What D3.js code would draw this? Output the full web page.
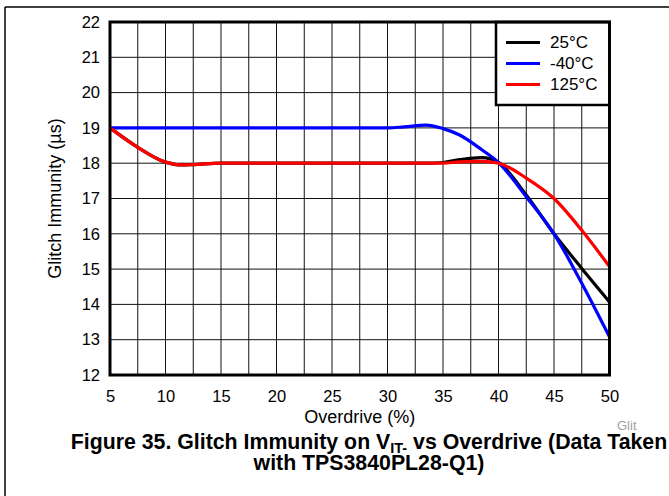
<!DOCTYPE html>
<meta charset="utf-8">
<style>
  body { margin: 0; background: #fff; }
  text { font-family: "Liberation Sans", Arial, sans-serif; }
</style>
<body>
<script src="https://cdnjs.cloudflare.com/ajax/libs/d3/7.8.5/d3.min.js"></script>
<script>
// overdrive (%) sample points, shared by all three curves
var overdrive = [5, 7.5, 10, 11.5, 12.5, 15, 20, 25, 30, 31.5, 33.5, 35, 36.5, 38.5, 40, 42.5, 45, 47.5, 50];
var temp25   = [19, 18.45, 18.03, 17.95, 17.96, 18, 18, 18, 18, 18, 18, 18.02, 18.1, 18.16, 18.02, 17.1, 16.0, 15.02, 14.07];
var tempM40  = [19, 19, 19, 19, 19, 19, 19, 19, 19, 19.03, 19.08, 18.98, 18.8, 18.38, 18.02, 17.05, 16.0, 14.6, 13.08];
var temp125  = [19, 18.45, 18.03, 17.95, 17.96, 18, 18, 18, 18, 18, 18, 18, 18.04, 18.05, 18.0, 17.58, 17.0, 16.1, 15.07];
var seriesNames = ["25°C", "-40°C", "125°C"];
var seriesColors = ["#000000", "#0000ff", "#ff0000"];
var xTicks = [5, 10, 15, 20, 25, 30, 35, 40, 45, 50];
var yTicks = [12, 13, 14, 15, 16, 17, 18, 19, 20, 21, 22];

var W = 669, H = 496;
var pL = 110, pR = 609.5, pT = 22, pB = 375;

var svg = d3.select("body").append("svg")
  .attr("width", W)
  .attr("height", H);

var x = d3.scaleLinear().domain([5, 50]).range([pL, pR]);
var y = d3.scaleLinear().domain([12, 22]).range([pB, pT]);

// outer page frame (top + left edge only)
svg.append("line").attr("x1", 5).attr("x2", W).attr("y1", 7).attr("y2", 7)
  .attr("stroke", "#000").attr("stroke-width", 1.5);
svg.append("line").attr("x1", 5).attr("x2", 5).attr("y1", 7).attr("y2", H)
  .attr("stroke", "#000").attr("stroke-width", 1.5);

// grid: every 2.5 % and every 1 µs
var xGrid = d3.range(5, 50.01, 2.5);
svg.append("g").selectAll("line").data(xGrid).enter().append("line")
  .attr("x1", d => x(d)).attr("x2", d => x(d))
  .attr("y1", pT).attr("y2", pB)
  .attr("stroke", "#111").attr("stroke-width", 1);
svg.append("g").selectAll("line").data(yTicks).enter().append("line")
  .attr("x1", pL).attr("x2", pR)
  .attr("y1", d => y(d)).attr("y2", d => y(d))
  .attr("stroke", "#111").attr("stroke-width", 1);

// axes (labels only, the frame is drawn separately)
var xAxis = svg.append("g").attr("transform", "translate(0," + pB + ")")
  .call(d3.axisBottom(x).tickValues(xTicks).tickSize(0).tickPadding(15));
var yAxis = svg.append("g").attr("transform", "translate(" + pL + ",0)")
  .call(d3.axisLeft(y).tickValues(yTicks).tickSize(0).tickPadding(10));
[xAxis, yAxis].forEach(function(a) {
  a.select(".domain").remove();
  a.selectAll("text").attr("font-size", 16.5).attr("fill", "#000")
    .style("font-family", '"Liberation Sans", Arial, sans-serif');
});

// curves
var series = [temp25, tempM40, temp125];
var line = d3.line()
  .x((d, i) => x(overdrive[i]))
  .y(d => y(d))
  .curve(d3.curveMonotoneX);
svg.append("g").selectAll("path").data(series).enter().append("path")
  .attr("d", line)
  .attr("fill", "none")
  .attr("stroke", (d, i) => seriesColors[i])
  .attr("stroke-width", 3.2)
  .attr("stroke-linejoin", "round");

// legend box
var lg = svg.append("g");
lg.append("rect").attr("x", 496).attr("y", pT).attr("width", pR - 496).attr("height", 105 - pT)
  .attr("fill", "#fff").attr("stroke", "#000").attr("stroke-width", 2.5);
seriesNames.forEach(function(n, i) {
  var ly = 42.5 + i * 21;
  lg.append("line").attr("x1", 506).attr("x2", 540).attr("y1", ly).attr("y2", ly)
    .attr("stroke", seriesColors[i]).attr("stroke-width", 3.2);
  lg.append("text").attr("x", 550).attr("y", ly + 5.8).attr("font-size", 17).text(n);
});

// plot frame
svg.append("rect").attr("x", pL).attr("y", pT)
  .attr("width", pR - pL).attr("height", pB - pT)
  .attr("fill", "none").attr("stroke", "#000").attr("stroke-width", 3);

// axis titles
svg.append("text").attr("x", (pL + pR) / 2).attr("y", 423)
  .attr("text-anchor", "middle").attr("font-size", 18).text("Overdrive (%)");
svg.append("text")
  .attr("transform", "translate(61," + (pT + pB) / 2 + ") rotate(-90)")
  .attr("text-anchor", "middle").attr("font-size", 18).text("Glitch Immunity (µs)");

svg.append("text").attr("x", 617).attr("y", 430).attr("font-size", 13)
  .attr("fill", "#a0a0a0").text("Glit");

// caption
var cap = svg.append("text").attr("x", 369).attr("y", 449)
  .attr("text-anchor", "middle").attr("font-size", 21.3).attr("font-weight", "bold");
cap.append("tspan").text("Figure 35. Glitch Immunity on V");
cap.append("tspan").attr("font-size", 14.5).attr("dy", 3.5).text("IT-");
cap.append("tspan").attr("dy", -3.5).text(" vs Overdrive (Data Taken");
svg.append("text").attr("x", 369).attr("y", 470)
  .attr("text-anchor", "middle").attr("font-size", 21.3).attr("font-weight", "bold")
  .text("with TPS3840PL28-Q1)");
</script>
</body>
